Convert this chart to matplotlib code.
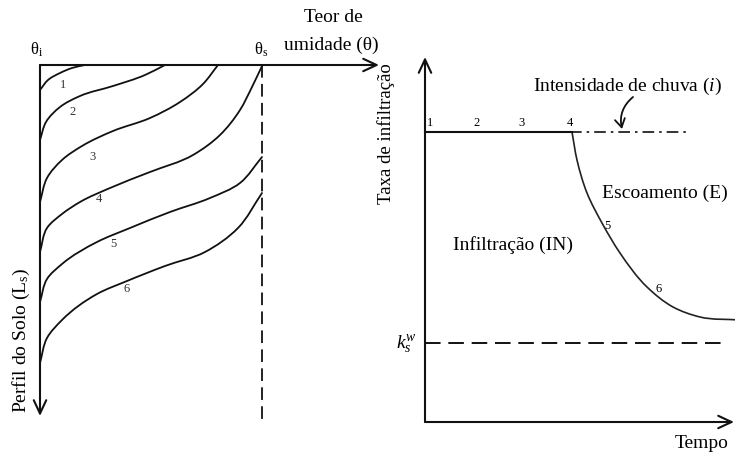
import numpy as np
import matplotlib
matplotlib.use("Agg")
import matplotlib.pyplot as plt
from matplotlib.path import Path
from matplotlib.patches import PathPatch

plt.rcParams['font.family'] = ['Liberation Serif', 'DejaVu Serif']
plt.rcParams['mathtext.fontset'] = 'custom'
plt.rcParams['mathtext.rm'] = 'Liberation Serif'
plt.rcParams['mathtext.it'] = 'Liberation Serif:italic'

# ---------------- data (schematic) ----------------
# Left panel: moisture profiles 1..6 as (theta position, depth) knots
profile_1 = [(40, 90), (48, 80), (60, 73), (72, 68), (85, 65)]
profile_2 = [(40, 140), (46, 122), (60, 107), (80, 96), (113, 86), (145, 75), (165, 65)]
profile_3 = [(40, 202), (47, 178), (62, 160), (82, 146), (113, 131), (150, 118),
             (180, 102), (203, 84), (218, 65)]
profile_4 = [(40, 252), (47, 228), (62, 214), (80, 202), (110, 188), (150, 172),
             (193, 155), (220, 135), (240, 110), (252, 87), (262, 66)]
profile_5 = [(40, 302), (47, 279), (62, 264), (97, 242), (130, 228),
             (170, 212), (210, 198), (240, 183), (262, 157)]
profile_6 = [(40, 363), (47, 338), (62, 320), (97, 294), (127, 281),
             (165, 266), (205, 252), (238, 228), (262, 193)]
profiles = [profile_1, profile_2, profile_3, profile_4, profile_5, profile_6]
profile_labels = ['1', '2', '3', '4', '5', '6']
profile_label_pos = [(63, 85), (73, 112), (93, 157), (99, 199), (113, 244), (127, 289)]

# Right panel: infiltration rate curve
rain_rate = 132
ks_rate = 343
decay_curve = [(572, 132), (577, 160), (587, 193), (602, 223), (620, 253),
               (647, 287), (673, 307), (700, 317), (740, 320)]
time_labels = ['1', '2', '3', '4']
time_label_x = [430, 477, 522, 570]
curve_labels = ['5', '6']
curve_label_pos = [(607, 226), (659, 289)]

# ---------------- figure ----------------
fig = plt.figure(figsize=(7.35, 4.54), dpi=100)
ax = fig.add_axes([0, 0, 1, 1])
ax.set_xlim(0, 735)
ax.set_ylim(454, 0)
ax.axis('off')


def smooth(ax, pts, lw=1.3, color='#111111'):
    """Chord-length cubic Hermite spline through the knots, drawn as Bezier path."""
    P = np.asarray(pts, dtype=float)
    n = len(P)
    h = np.linalg.norm(np.diff(P, axis=0), axis=1)
    d = np.diff(P, axis=0) / h[:, None]
    m = np.zeros_like(P)
    m[0] = d[0]
    m[-1] = d[-1]
    for i in range(1, n - 1):
        m[i] = (d[i] * h[i - 1] + d[i - 1] * h[i]) / (h[i - 1] + h[i])
    verts = [P[0]]
    codes = [Path.MOVETO]
    for i in range(n - 1):
        c1 = P[i] + m[i] * h[i] / 3.0
        c2 = P[i + 1] - m[i + 1] * h[i] / 3.0
        verts += [c1, c2, P[i + 1]]
        codes += [Path.CURVE4] * 3
    ax.add_patch(PathPatch(Path(verts, codes), fill=False, lw=lw, edgecolor=color,
                           capstyle='round', joinstyle='round'))


arrow_kw = dict(arrowstyle='->,head_length=0.6,head_width=0.28', lw=1.5,
                color='#111111', mutation_scale=16, shrinkA=0, shrinkB=0)

# ---- Left panel ----
ax.annotate('', xy=(379, 65), xytext=(40, 65), arrowprops=arrow_kw)
ax.annotate('', xy=(40, 416), xytext=(40, 65), arrowprops=arrow_kw)
ax.plot([262, 262], [65, 424], color='#111111', lw=1.3, dashes=(7, 3.5))

for pts in profiles:
    smooth(ax, pts)
for lab, (x, y) in zip(profile_labels, profile_label_pos):
    ax.text(x, y, lab, fontsize=9, ha='center', va='center', color='#333333')

ax.text(37, 50, 'θ$_{\\rm i}$', fontsize=12, ha='center', va='center')
ax.text(261, 50, 'θ$_{\\rm s}$', fontsize=12, ha='center', va='center')
ax.text(333, 18, 'Teor de', fontsize=14, ha='center', va='center')
ax.text(331, 45, 'umidade (θ)', fontsize=14, ha='center', va='center')
ax.text(21, 340, 'Perfil do Solo (L$_{\\rm s}$)', fontsize=14, ha='center', va='center',
        rotation=90)

# ---- Right panel ----
ax.annotate('', xy=(425, 57), xytext=(425, 422), arrowprops=arrow_kw)
ax.annotate('', xy=(734, 422), xytext=(425, 422), arrowprops=arrow_kw)

ax.plot([425, 688], [rain_rate, rain_rate], color='#111111', lw=1.2, dashes=(7, 3, 1.5, 3))
ax.plot([425, 572], [rain_rate, rain_rate], color='#111111', lw=1.5)
smooth(ax, decay_curve, lw=1.2, color='#222222')
ax.plot([425, 726], [ks_rate, ks_rate], color='#111111', lw=1.4, dashes=(8, 4))

for lab, x in zip(time_labels, time_label_x):
    ax.text(x, rain_rate - 9, lab, fontsize=9, ha='center', va='center')
for lab, (x, y) in zip(curve_labels, curve_label_pos):
    ax.text(x, y, lab, fontsize=9, ha='center', va='center')

ax.text(628, 86, 'Intensidade de chuva ($i$)', fontsize=14, ha='center', va='center')
ax.annotate('', xy=(622, 129), xytext=(633, 97),
            arrowprops=dict(arrowstyle='->,head_length=0.5,head_width=0.3', lw=1.3,
                            color='#111111', mutation_scale=12, shrinkA=0, shrinkB=0,
                            connectionstyle='arc3,rad=0.3'))
ax.text(665, 193, 'Escoamento (E)', fontsize=14, ha='center', va='center')
ax.text(513, 245, 'Infiltração (IN)', fontsize=14, ha='center', va='center')
ax.text(386, 134, 'Taxa de infiltração', fontsize=13.5, ha='center', va='center', rotation=90)
ax.text(406, 345, '$k_s^w$', fontsize=14, ha='center', va='center')
ax.text(702, 443, 'Tempo', fontsize=14, ha='center', va='center')

fig.savefig('out.png', dpi=100)
